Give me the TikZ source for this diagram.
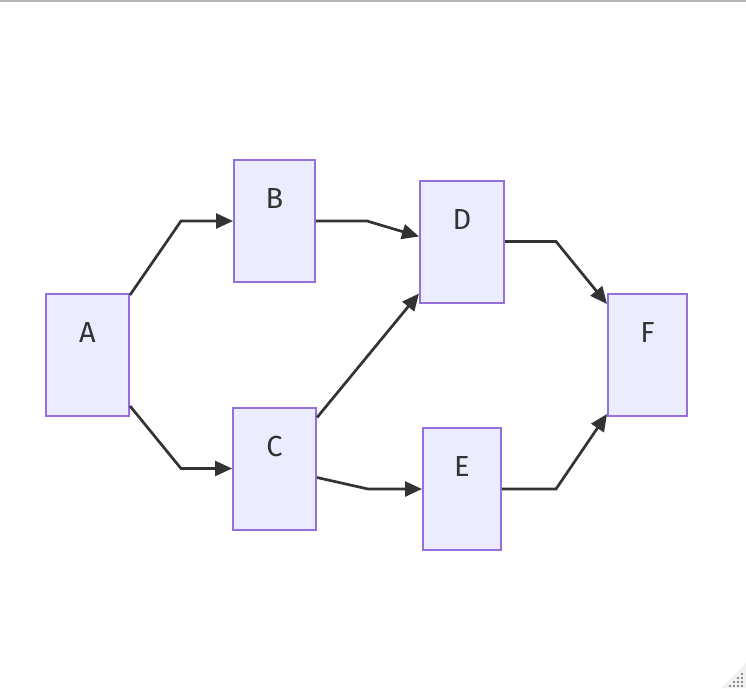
\documentclass[tikz,border=0pt]{standalone}
\usepackage{fontspec}
\setmainfont{Fira Sans}
\usetikzlibrary{arrows.meta}
\definecolor{nodefill}{HTML}{ECECFF}
\definecolor{nodeline}{HTML}{9370DB}
\definecolor{ink}{HTML}{333333}
\definecolor{rule}{HTML}{B5B5B5}
\definecolor{grip}{HTML}{8A8A8A}
\begin{document}
\begin{tikzpicture}[x=1pt,y=-1pt,
  box/.style={draw=nodeline, fill=nodefill, line width=2pt, rectangle,
    inner xsep=0pt, inner ysep=0pt, text height=48.5pt, text depth=73.5pt,
    text=ink, font=\fontsize{29}{34}\selectfont},
  flow/.style={draw=ink, line width=2.7pt,
    -{Triangle[length=17pt,width=15pt]}}]
  % canvas
  \fill[white] (0,0) rectangle (746,688);
  \useasboundingbox (0,0) rectangle (746,688);
  \fill[rule] (0,0) rectangle (746,1.8);

  % process boxes
  \node[box, minimum width=83pt] (A) at (87.5,355) {A};
  \node[box, minimum width=81pt] (B) at (274.5,221) {B};
  \node[box, minimum width=83pt] (C) at (274.5,468.5) {C};
  \node[box, minimum width=84pt] (D) at (462,241.5) {D};
  \node[box, minimum width=78pt] (E) at (462,489) {E};
  \node[box, minimum width=79pt] (F) at (647.5,355) {F};

  % connectors
  \draw[flow] ([yshift=-2pt]A.north east) -- (181,221) -- (B.west);
  \draw[flow] ([yshift=11pt]A.south east) -- (181,468.5) -- (C.west);
  \draw[flow] (B.east) -- (367,221) -- ([yshift=5pt]D.west);
  \draw[flow] ([yshift=-11pt]C.north east) -- ([yshift=10pt]D.south west);
  \draw[flow] ([yshift=-9pt]C.east) -- (368,489) -- (E.west);
  \draw[flow] (D.east) -- (556,241.5) -- ([yshift=-11pt]F.north west);
  \draw[flow] (E.east) -- (556,489) -- ([yshift=3pt]F.south west);

  % resize grip in the corner
  \fill[black!6] (746,663) -- (746,688) -- (721,688) -- cycle;
  \foreach \p in {(742,674),(742,678),(738,678),(742,682),(738,682),(734,682),
                  (742,686),(738,686),(734,686),(730,686)}
    \fill[grip] \p ++(-0.8,-0.8) rectangle ++(1.6,1.6);
\end{tikzpicture}
\end{document}
